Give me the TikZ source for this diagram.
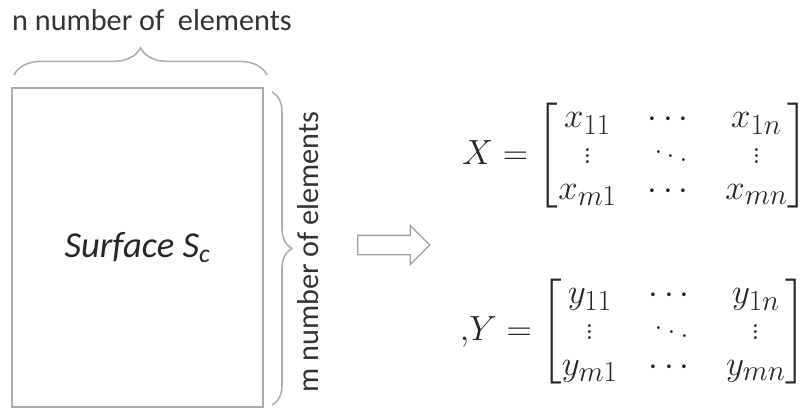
\documentclass[tikz,border=0pt]{standalone}
\usepackage{amsmath}
\usepackage{fontspec}
\newfontfamily\labfont{Carlito}
\usetikzlibrary{positioning,decorations.pathreplacing,shapes.arrows}
\tikzset{
    surfbox/.style={rectangle,draw=gray!65,line width=1.2pt,
                    minimum width=6.275cm,minimum height=7.975cm,
                    font=\labfont\itshape\fontsize{26}{30}\selectfont,text=black!85},
    lab/.style={font=\labfont\fontsize{21.5}{24}\selectfont,text=black!80},
    bracepath/.style={draw=gray!65,line width=1.1pt,decorate,
                      decoration={brace,amplitude=#1}},
    matbox/.style={font=\Huge,text=black!85,inner sep=0pt},
}
\renewcommand\arraystretch{0.85}
\setlength\arraycolsep{11pt}

\begin{document}
\begin{tikzpicture}[x=0.025cm,y=-0.025cm]
    \useasboundingbox (0,0) rectangle (808,417);

    % ---- surface ----
    \node[surfbox] (surf) at (137.5,247.5) {Surface S\textsubscript{c}};

    % ---- braces ----
    \coordinate (ta) at (14,75);
    \coordinate (tb) at (267,75);
    \coordinate (ra) at (272,92);
    \coordinate (rb) at (272,405);
    \draw[bracepath=0.68cm] (ta) -- (tb);
    \draw[bracepath=0.5cm] (ra) -- (rb);

    % ---- labels ----
    \node[lab] (nlab) at (152,20) {n number of\ \ elements};
    \node[lab,rotate=90] (mlab) at (308,252) {m number of elements};

    % ---- arrow ----
    \node[single arrow,draw=gray!75,line width=0.9pt,fill=white,
          minimum height=1.8cm,inner xsep=0pt,inner ysep=0.225cm,
          single arrow head extend=0.25cm] (arr) at (389,245) {};

    % ---- matrices ----
    \node[matbox] (matX) at (635,156)
        {$X = \begin{bmatrix} x_{11} & \cdots & x_{1n}\\ \vdots & \ddots & \vdots\\ x_{m1} & \cdots & x_{mn} \end{bmatrix}$};
    \node[matbox] (matY) at (633,332)
        {$,\!Y = \begin{bmatrix} y_{11} & \cdots & y_{1n}\\ \vdots & \ddots & \vdots\\ y_{m1} & \cdots & y_{mn} \end{bmatrix}$};

\end{tikzpicture}
\end{document}
